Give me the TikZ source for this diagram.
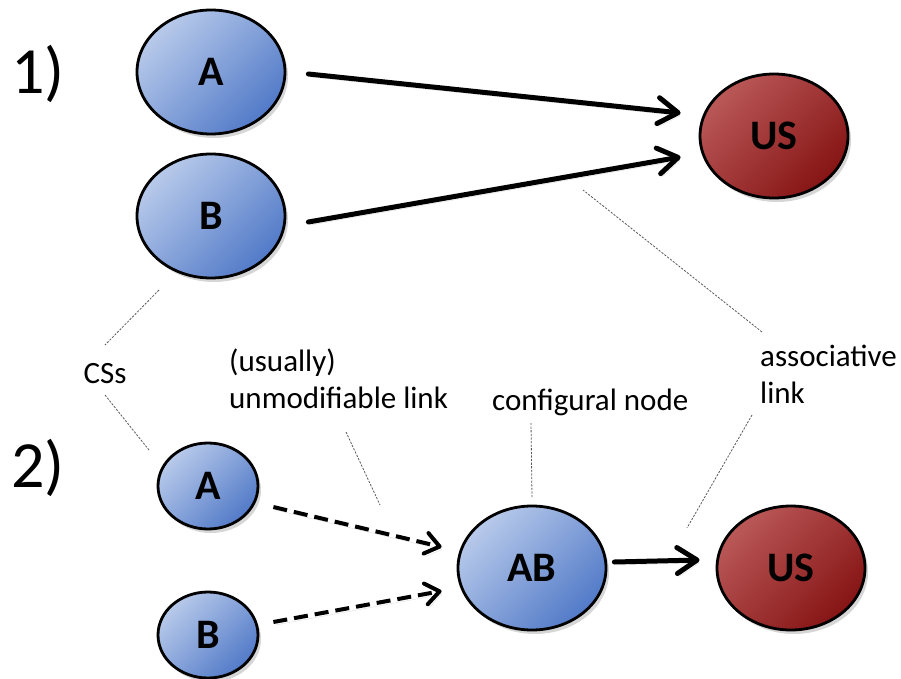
\documentclass[tikz,border=0pt]{standalone}
\usepackage{fontspec}
\setmainfont{Carlito}
\usetikzlibrary{arrows.meta,shapes.geometric,shadows}

\definecolor{cslight}{RGB}{184,202,234}
\definecolor{csdark}{RGB}{82,122,200}
\definecolor{uslight}{RGB}{186,88,88}
\definecolor{usdark}{RGB}{134,20,20}

\tikzset{
  stim/.style={ellipse, draw=black, line width=2.8pt, inner sep=0pt,
    font=\bfseries\fontsize{42}{42}\selectfont,
    drop shadow={shadow xshift=3pt, shadow yshift=-4pt, opacity=0.16, fill=black}},
  big/.style={minimum width=148pt, minimum height=124pt},
  small/.style={minimum width=100pt, minimum height=86pt},
  csnode/.style={stim, top color=cslight, bottom color=csdark, shading angle=45},
  usnode/.style={stim, top color=uslight, bottom color=usdark, shading angle=45},
  linkshadow/.style={preaction={draw=black!13, transform canvas={xshift=2pt, yshift=-3pt}}},
  link/.style={line width=5pt, line cap=round,
    -{Straight Barb[length=20pt, width=26pt, round]}, linkshadow},
  fixedlink/.style={line width=4pt, dash pattern=on 14pt off 7pt,
    -{Straight Barb[length=14pt, width=21pt, round]}, linkshadow},
  guide/.style={draw=black!65, line width=0.8pt, dash pattern=on 2.2pt off 1.4pt},
  caption/.style={font=\fontsize{31}{37}\selectfont, inner sep=0pt},
  phase/.style={font=\fontsize{66}{66}\selectfont, inner sep=0pt, anchor=base west},
}

\begin{document}
\begin{tikzpicture}[x=1pt, y=-1pt]
  \useasboundingbox (0,0) rectangle (901,679);

  % phase 1: elemental stimuli linked directly to the US
  \node[phase] (one) at (11,94) {1)};
  \node[csnode, big] (A1) at (211,72) {\raisebox{-4pt}{A}};
  \node[csnode, big] (B1) at (211,216) {\raisebox{-4pt}{B}};
  \node[usnode, big] (US1) at (774,136) {US};

  \draw[link] ([shift={(22,2)}]A1.east) -- ([shift={(-18,-23)}]US1.west);
  \draw[link] ([shift={(22,6)}]B1.east) -- ([shift={(-18,21)}]US1.west);

  % phase 2: stimuli feed a configural node
  \node[phase] (two) at (11,487) {2)};
  \node[csnode, small] (A2) at (208,486) {A};
  \node[csnode, small] (B2) at (208,635) {B};
  \node[csnode, big] (AB) at (532,568) {AB};
  \node[usnode, big] (US2) at (791,568) {US};

  \draw[fixedlink] ([shift={(14,21)}]A2.east) -- ([shift={(-15,-21)}]AB.west);
  \draw[fixedlink] ([shift={(14,-13)}]B2.east) -- ([shift={(-15,23)}]AB.west);
  \draw[link] ([shift={(7,-6)}]AB.east) -- ([shift={(-16,-8)}]US2.west);

  % annotations (base anchor of a two-line caption sits on its last line)
  \node[caption, anchor=base] (cs) at (105,383) {CSs};
  \node[caption, anchor=base west, align=left] (unmod) at (229,408) {(usually)\\unmodifiable link};
  \node[caption, anchor=base west] (conf) at (492,410) {configural node};
  \node[caption, anchor=base west, align=left] (assoc) at (760,403) {associative\\link};

  % pointer ends on the diagram elements
  \coordinate (pB1) at (159,290);
  \coordinate (pA2) at (149,450);
  \coordinate (pfix) at (380,505);
  \coordinate (pAB) at (532,497);
  \coordinate (ptop) at (583,190);
  \coordinate (pbot) at (687,528);

  \draw[guide] (pB1) -- (105,345);
  \draw[guide] (105,395) -- (pA2);
  \draw[guide] (346,432) -- (pfix);
  \draw[guide] (531,423) -- (pAB);
  \draw[guide] (762,332) -- (ptop);
  \draw[guide] (752,415) -- (pbot);
\end{tikzpicture}
\end{document}
